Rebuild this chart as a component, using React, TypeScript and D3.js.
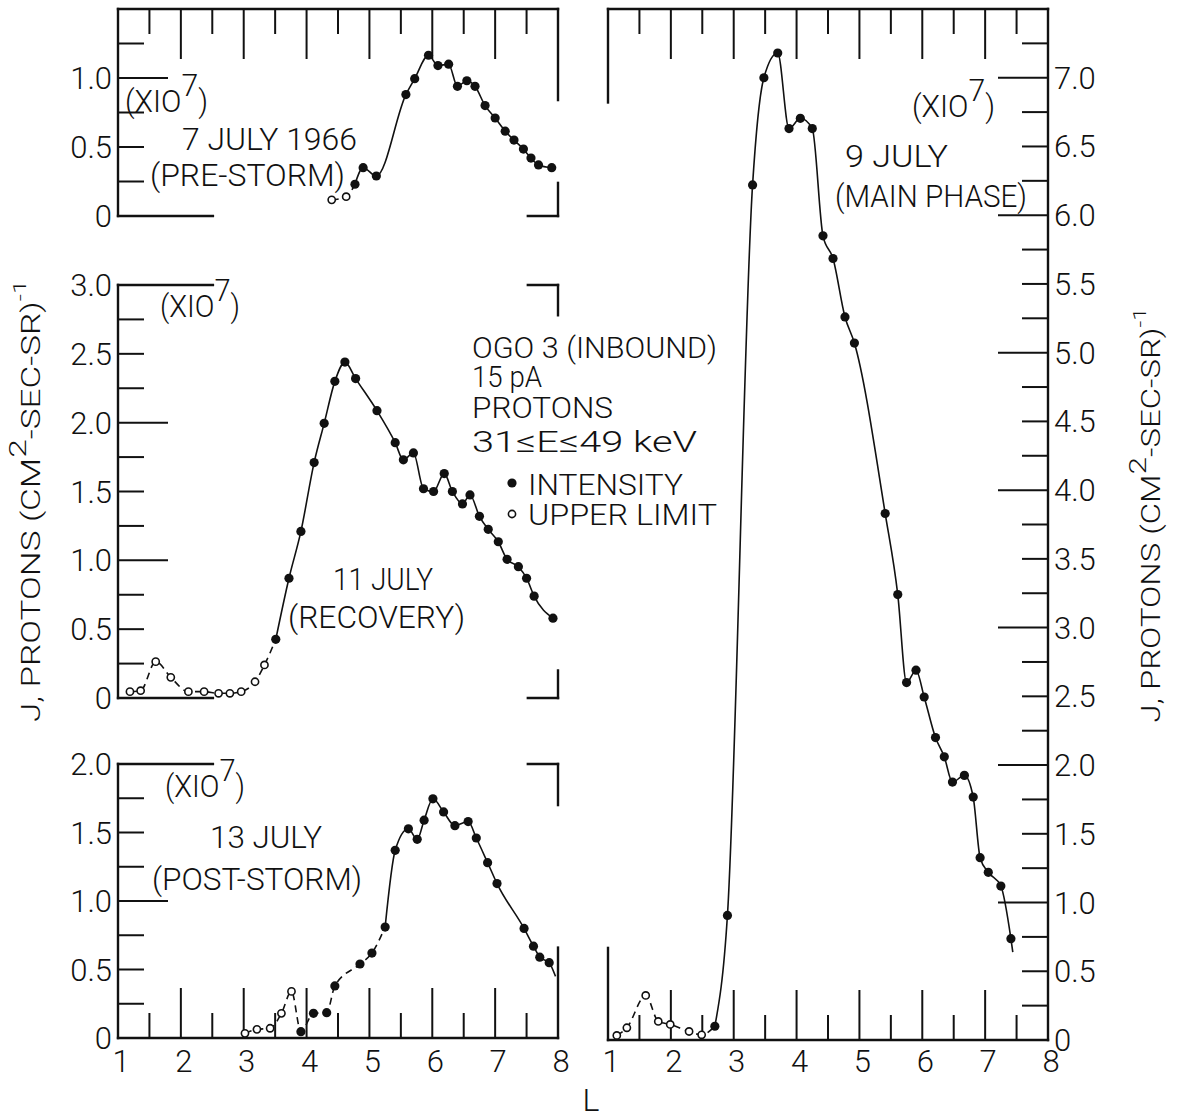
import React from 'react';
import * as d3 from 'd3';

const W = 1177;
const H = 1120;
const FONT = 'Roboto, "DejaVu Sans", sans-serif';

// 7 July 1966 (pre-storm)
const jul7OpenL = [4.40, 4.63];
const jul7OpenJ = [0.117, 0.14];
const jul7L = [4.77, 4.90, 5.11, 5.58, 5.72, 5.94, 6.09, 6.26, 6.40, 6.55, 6.68, 6.84, 7.00, 7.16, 7.30, 7.45, 7.57, 7.69, 7.90];
const jul7J = [0.23, 0.35, 0.29, 0.88, 0.995, 1.165, 1.09, 1.10, 0.94, 0.98, 0.94, 0.80, 0.71, 0.615, 0.55, 0.485, 0.42, 0.37, 0.35];

// 11 July (recovery)
const jul11OpenL = [1.19, 1.36, 1.60, 1.84, 2.12, 2.37, 2.60, 2.78, 2.96, 3.18, 3.33];
const jul11OpenJ = [0.046, 0.053, 0.264, 0.15, 0.046, 0.046, 0.034, 0.034, 0.046, 0.118, 0.24];
const jul11L = [3.51, 3.72, 3.91, 4.12, 4.28, 4.45, 4.61, 4.78, 5.12, 5.41, 5.54, 5.70, 5.86, 6.02, 6.19, 6.32, 6.48, 6.60, 6.75, 6.89, 7.05, 7.19, 7.37, 7.50, 7.62, 7.92];
const jul11J = [0.426, 0.87, 1.21, 1.71, 1.995, 2.30, 2.44, 2.32, 2.087, 1.855, 1.73, 1.78, 1.52, 1.50, 1.63, 1.50, 1.41, 1.475, 1.32, 1.225, 1.135, 1.007, 0.954, 0.87, 0.74, 0.58];

// 13 July (post-storm)
const jul13OpenL = [3.02, 3.21, 3.42, 3.60, 3.76];
const jul13OpenJ = [0.034, 0.063, 0.071, 0.18, 0.34];
const jul13L = [3.91, 4.11, 4.32, 4.45, 4.85, 5.04, 5.25, 5.41, 5.62, 5.76, 5.87, 6.01, 6.18, 6.36, 6.57, 6.70, 6.88, 7.03, 7.46, 7.61, 7.71, 7.86];
const jul13J = [0.046, 0.18, 0.185, 0.38, 0.54, 0.62, 0.81, 1.37, 1.527, 1.45, 1.59, 1.746, 1.65, 1.55, 1.58, 1.46, 1.28, 1.127, 0.80, 0.67, 0.59, 0.55];
const jul13TailL = [7.96];
const jul13TailJ = [0.45];

// 9 July (main phase)
const jul9OpenL = [1.14, 1.30, 1.60, 1.80, 1.99, 2.29, 2.49];
const jul9OpenJ = [0.033, 0.089, 0.324, 0.135, 0.113, 0.062, 0.038];
const jul9L = [2.70, 2.90, 3.30, 3.48, 3.70, 3.88, 4.06, 4.25, 4.42, 4.58, 4.77, 4.92, 5.41, 5.61, 5.75, 5.90, 6.03, 6.21, 6.35, 6.48, 6.67, 6.81, 6.92, 7.05, 7.25, 7.41];
const jul9J = [0.10, 0.906, 6.22, 7.00, 7.18, 6.63, 6.705, 6.63, 5.85, 5.685, 5.26, 5.07, 3.83, 3.24, 2.60, 2.69, 2.495, 2.20, 2.06, 1.876, 1.925, 1.767, 1.326, 1.22, 1.12, 0.737];
const jul9TailL = [7.44];
const jul9TailJ = [0.64];

// tick labels
const lTicks = [1, 2, 3, 4, 5, 6, 7, 8];
const topTicks = [0, 0.5, 1.0];
const midTicks = [0, 0.5, 1.0, 1.5, 2.0, 2.5, 3.0];
const botTicks = [0, 0.5, 1.0, 1.5, 2.0];
const mainTicks = [0, 0.5, 1.0, 1.5, 2.0, 2.5, 3.0, 3.5, 4.0, 4.5, 5.0, 5.5, 6.0, 6.5, 7.0];

const xLeft = d3.scaleLinear().domain([1, 8]).range([118, 558]);
const xRight = d3.scaleLinear().domain([1, 8]).range([608, 1048]);
const yTop = d3.scaleLinear().domain([0, 1.5]).range([216, 9]);
const yMid = d3.scaleLinear().domain([0, 3]).range([698, 285]);
const yBot = d3.scaleLinear().domain([0, 2]).range([1038, 764]);
const yMain = d3.scaleLinear().domain([0, 7.5]).range([1040, 9]);

const fmt = (v: number) => (v === 0 ? '0' : v.toFixed(1));
const zip = (a: number[], b: number[]) => a.map((v, i) => [v, b[i]] as [number, number]);

function Series({ x, y, openL, openJ, L, J, solidFrom, tailL = [], tailJ = [] }: any) {
  const line = d3.line<[number, number]>()
    .x(d => x(d[0]))
    .y(d => y(d[1]))
    .curve(d3.curveMonotoneX);
  const open = zip(openL, openJ);
  const filled = zip(L, J);
  const dashed = open.concat(filled.slice(0, solidFrom + 1));
  const solid = filled.slice(solidFrom).concat(zip(tailL, tailJ));
  return (
    <g>
      <path d={line(dashed) || ''} fill="none" stroke="#111" strokeWidth={1.6} strokeDasharray="7 5" />
      <path d={line(solid) || ''} fill="none" stroke="#111" strokeWidth={1.6} />
      {open.map((d, i) => (
        <circle key={'o' + i} cx={x(d[0])} cy={y(d[1])} r={3.6} fill="#fff" stroke="#111" strokeWidth={1.6} />
      ))}
      {filled.map((d, i) => (
        <circle key={'f' + i} cx={x(d[0])} cy={y(d[1])} r={4.6} fill="#111" />
      ))}
    </g>
  );
}

// inward ticks on a vertical edge
function YTicks({ y, x0, max, dir }: any) {
  const vals = d3.range(0.25, max, 0.25);
  return (
    <g stroke="#111" strokeWidth={2}>
      {vals.map(v => {
        const len = Number.isInteger(v) ? 50 : 26;
        return <line key={v} x1={x0} x2={x0 + dir * len} y1={y(v)} y2={y(v)} />;
      })}
    </g>
  );
}

// inward ticks on a horizontal edge
function XTicks({ x, y0, dir }: any) {
  const vals = d3.range(1.5, 8, 0.5);
  return (
    <g stroke="#111" strokeWidth={2}>
      {vals.map(v => {
        const len = Number.isInteger(v) ? 50 : 25;
        return <line key={v} x1={x(v)} x2={x(v)} y1={y0} y2={y0 + dir * len} />;
      })}
    </g>
  );
}

function Seg({ x1, y1, x2, y2 }: any) {
  return <line x1={x1} y1={y1} x2={x2} y2={y2} stroke="#111" strokeWidth={2.4} strokeLinecap="square" />;
}

function Txt({ x, y, len, children, size = 32, anchor = 'start' }: any) {
  return (
    <text x={x} y={y} fontSize={size} textLength={len} lengthAdjust="spacingAndGlyphs" textAnchor={anchor}>
      {children}
    </text>
  );
}

function X10({ x, y, len }: any) {
  return (
    <text x={x} y={y} fontSize={32} textLength={len} lengthAdjust="spacingAndGlyphs">
      (XIO<tspan dy={-16}>7</tspan><tspan dy={16}>)</tspan>
    </text>
  );
}

function YTitle({ x, y, len }: any) {
  return (
    <text transform={`translate(${x},${y}) rotate(-90)`} fontSize={25} textAnchor="middle" textLength={len} lengthAdjust="spacingAndGlyphs">
      J, PROTONS (CM<tspan dy={-14} fontSize={24}>2</tspan><tspan dy={14}>-SEC-SR)</tspan><tspan dy={-14} fontSize={18}>-1</tspan>
    </text>
  );
}

export default function App() {
  const xl = xLeft;
  const xr = xRight;
  return (
    <svg width={W} height={H} viewBox={`0 0 ${W} ${H}`}
      style={{ position: 'absolute', left: 0, top: 0, background: '#fff' }}
      fontFamily={FONT} fontWeight={300} fill="#111">
      <rect width={W} height={H} fill="#fff" />

      {/* 7 July panel frame */}
      <Seg x1={xl(1)} y1={yTop(1.5)} x2={xl(8)} y2={yTop(1.5)} />
      <Seg x1={xl(1)} y1={yTop(1.5)} x2={xl(1)} y2={yTop(0)} />
      <Seg x1={xl(1)} y1={yTop(0)} x2={xl(2.51)} y2={yTop(0)} />
      <Seg x1={xl(7.52)} y1={yTop(0)} x2={xl(8)} y2={yTop(0)} />
      <Seg x1={xl(8)} y1={yTop(1.5)} x2={xl(8)} y2={yTop(0.84)} />
      <Seg x1={xl(8)} y1={yTop(0.24)} x2={xl(8)} y2={yTop(0)} />
      <XTicks x={xl} y0={yTop(1.5)} dir={1} />
      <YTicks y={yTop} x0={xl(1)} max={1.5} dir={1} />

      {/* 11 July panel frame */}
      <Seg x1={xl(1)} y1={yMid(3)} x2={xl(2.51)} y2={yMid(3)} />
      <Seg x1={xl(1)} y1={yMid(3)} x2={xl(1)} y2={yMid(0)} />
      <Seg x1={xl(1)} y1={yMid(0)} x2={xl(2.51)} y2={yMid(0)} />
      <Seg x1={xl(7.52)} y1={yMid(3)} x2={xl(8)} y2={yMid(3)} />
      <Seg x1={xl(8)} y1={yMid(3)} x2={xl(8)} y2={yMid(2.78)} />
      <Seg x1={xl(7.52)} y1={yMid(0)} x2={xl(8)} y2={yMid(0)} />
      <Seg x1={xl(8)} y1={yMid(0.2)} x2={xl(8)} y2={yMid(0)} />
      <YTicks y={yMid} x0={xl(1)} max={3} dir={1} />

      {/* 13 July panel frame */}
      <Seg x1={xl(1)} y1={yBot(2)} x2={xl(2.51)} y2={yBot(2)} />
      <Seg x1={xl(1)} y1={yBot(2)} x2={xl(1)} y2={yBot(0)} />
      <Seg x1={xl(1)} y1={yBot(0)} x2={xl(8)} y2={yBot(0)} />
      <Seg x1={xl(7.52)} y1={yBot(2)} x2={xl(8)} y2={yBot(2)} />
      <Seg x1={xl(8)} y1={yBot(2)} x2={xl(8)} y2={yBot(1.7)} />
      <Seg x1={xl(8)} y1={yBot(0.66)} x2={xl(8)} y2={yBot(0)} />
      <XTicks x={xl} y0={yBot(0)} dir={-1} />
      <YTicks y={yBot} x0={xl(1)} max={2} dir={1} />

      {/* 9 July panel frame */}
      <Seg x1={xr(1)} y1={yMain(7.5)} x2={xr(8)} y2={yMain(7.5)} />
      <Seg x1={xr(8)} y1={yMain(7.5)} x2={xr(8)} y2={yMain(0)} />
      <Seg x1={xr(1)} y1={yMain(0)} x2={xr(8)} y2={yMain(0)} />
      <Seg x1={xr(1)} y1={yMain(7.5)} x2={xr(1)} y2={yMain(6.82)} />
      <Seg x1={xr(1)} y1={yMain(0.67)} x2={xr(1)} y2={yMain(0)} />
      <XTicks x={xr} y0={yMain(7.5)} dir={1} />
      <XTicks x={xr} y0={yMain(0)} dir={-1} />
      <YTicks y={yMain} x0={xr(8)} max={7.5} dir={-1} />

      {/* data */}
      <Series x={xl} y={yTop} openL={jul7OpenL} openJ={jul7OpenJ} L={jul7L} J={jul7J} solidFrom={0} />
      <Series x={xl} y={yMid} openL={jul11OpenL} openJ={jul11OpenJ} L={jul11L} J={jul11J} solidFrom={0} />
      <Series x={xl} y={yBot} openL={jul13OpenL} openJ={jul13OpenJ} L={jul13L} J={jul13J} solidFrom={6}
        tailL={jul13TailL} tailJ={jul13TailJ} />
      <Series x={xr} y={yMain} openL={jul9OpenL} openJ={jul9OpenJ} L={jul9L} J={jul9J} solidFrom={0}
        tailL={jul9TailL} tailJ={jul9TailJ} />

      {/* tick labels */}
      <g fontSize={31} textAnchor="end">
        {topTicks.map(v => <text key={'t' + v} x={112} y={yTop(v) + 11}>{fmt(v)}</text>)}
        {midTicks.map(v => <text key={'m' + v} x={112} y={yMid(v) + 11}>{fmt(v)}</text>)}
        {botTicks.map(v => <text key={'b' + v} x={112} y={yBot(v) + 11}>{fmt(v)}</text>)}
      </g>
      <g fontSize={31} textAnchor="start">
        {mainTicks.map(v => <text key={'r' + v} x={1054} y={yMain(v) + 11}>{fmt(v)}</text>)}
      </g>
      <g fontSize={31} textAnchor="middle">
        {lTicks.map(v => <text key={'xl' + v} x={xl(v) + 3} y={1072}>{v}</text>)}
        {lTicks.map(v => <text key={'xr' + v} x={xr(v) + 3} y={1072}>{v}</text>)}
      </g>
      <text x={591} y={1111} fontSize={32} textAnchor="middle">L</text>

      <YTitle x={40} y={501} len={442} />
      <YTitle x={1160} y={515} len={415} />

      {/* annotations */}
      <X10 x={125} y={112} len={83} />
      <Txt x={182} y={150} len={175}>7 JULY 1966</Txt>
      <Txt x={150} y={186} len={195}>(PRE-STORM)</Txt>

      <X10 x={160} y={317} len={80} />
      <Txt x={333} y={590} len={100}>11 JULY</Txt>
      <Txt x={288} y={628} len={177}>(RECOVERY)</Txt>

      <X10 x={165} y={797} len={80} />
      <Txt x={210} y={848} len={112}>13 JULY</Txt>
      <Txt x={152} y={890} len={210}>(POST-STORM)</Txt>

      <X10 x={912} y={117} len={83} />
      <Txt x={845} y={167} len={103}>9 JULY</Txt>
      <Txt x={835} y={207} len={192}>(MAIN PHASE)</Txt>

      {/* legend */}
      <Txt x={472} y={358} len={245} size={30}>OGO 3 (INBOUND)</Txt>
      <Txt x={472} y={387} len={70} size={30}>15 pA</Txt>
      <Txt x={472} y={418} len={141} size={30}>PROTONS</Txt>
      <Txt x={472} y={452} len={225} size={30}>31≤E≤49 keV</Txt>
      <circle cx={512} cy={483} r={4.6} fill="#111" />
      <Txt x={528} y={495} len={155} size={30}>INTENSITY</Txt>
      <circle cx={512} cy={514} r={3.6} fill="#fff" stroke="#111" strokeWidth={1.6} />
      <Txt x={528} y={525} len={189} size={30}>UPPER LIMIT</Txt>
    </svg>
  );
}
